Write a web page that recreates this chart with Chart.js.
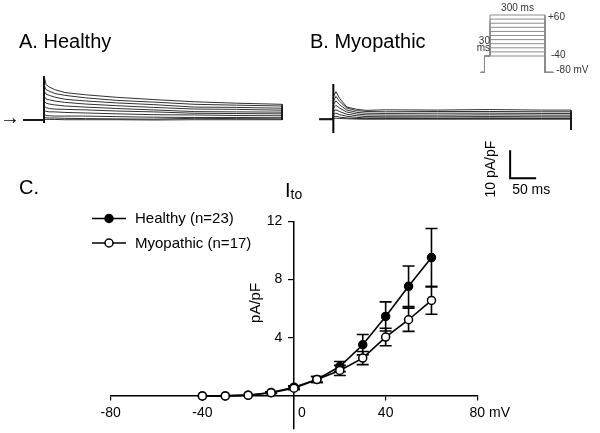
<!DOCTYPE html>
<html>
<head>
<meta charset="utf-8">
<script src="https://cdn.jsdelivr.net/npm/chart.js@4.4.0/dist/chart.umd.min.js"></script>
<style>
  html, body { margin: 0; padding: 0; background: #fff; }
  body { width: 600px; height: 433px; position: relative; overflow: hidden;
         font-family: "Liberation Sans", Arial, sans-serif; color: #000; }
  canvas { position: absolute; }
  .lbl { position: absolute; white-space: nowrap; line-height: 20px; }
</style>
</head>
<body>
<canvas id="ivChart" width="600" height="443" style="left:0;top:0;width:600px;height:443px"></canvas>
<canvas id="traceA" width="265" height="80" style="left:20px;top:65px;width:265px;height:80px"></canvas>
<canvas id="traceB" width="300" height="135" style="left:300px;top:65px;width:300px;height:135px"></canvas>
<canvas id="protocol" width="130" height="80" style="left:470px;top:0;width:130px;height:80px"></canvas>

<div class="lbl" style="left:19px;top:31px;font-size:20px">A. Healthy</div>
<div class="lbl" style="left:310px;top:31px;font-size:20px">B. Myopathic</div>
<div class="lbl" style="left:19px;top:177px;font-size:20px">C.</div>
<div class="lbl" style="left:285px;top:180px;font-size:20px">I<span style="font-size:14px;position:relative;top:2px">to</span></div>
<div class="lbl" style="left:0;top:107px;font-size:20px">&rarr;</div>

<script>

// ---- panel C: I-V relation ----
const voltages = [-40, -30, -20, -10, 0, 10, 20, 30, 40, 50, 60];
const healthyMean = [0, 0, 0.05, 0.23, 0.6, 1.13, 2.02, 3.52, 5.47, 7.54, 9.52];
const healthySem  = [0, 0, 0, 0.05, 0.1, 0.2, 0.35, 0.7, 1.0, 1.4, 2.0];
const myoMean = [0, 0, 0.05, 0.22, 0.53, 1.13, 1.75, 2.6, 4.05, 5.24, 6.57];
const myoSem  = [0, 0, 0, 0.05, 0.1, 0.2, 0.35, 0.45, 0.6, 0.8, 0.95];
const yTicks = [4, 8, 12];

// ---- panels A / B: current traces (pA/pF) ----
const timesA = [0, 4, 10, 20, 40, 80, 140, 210, 290, 370, 458];
const healthyTraces = [
  [15.7, 12.6, 11.8, 10.9, 9.8, 9.0, 8.1, 7.3, 6.5, 6.0, 5.6],
  [12.5, 10.8, 10.3, 9.5, 8.8, 7.9, 7.0, 6.4, 5.6, 5.3, 5.0],
  [10.5, 9.2, 8.8, 8.2, 7.4, 6.8, 6.1, 5.5, 4.6, 4.5, 4.2],
  [8.5, 7.5, 7.2, 6.8, 6.3, 5.7, 5.1, 4.5, 3.9, 3.8, 3.5],
  [6.8, 6.0, 5.7, 5.4, 5.0, 4.6, 4.1, 3.6, 3.0, 2.9, 2.8],
  [5.0, 4.4, 4.1, 3.9, 3.8, 3.6, 3.2, 2.9, 2.4, 2.3, 2.2],
  [3.4, 3.1, 2.9, 2.9, 2.7, 2.5, 2.2, 1.9, 1.8, 1.6, 1.5],
  [2.0, 1.6, 1.5, 1.4, 1.4, 1.4, 1.2, 1.0, 0.9, 0.9, 0.8],
  [0.9, 0.8, 0.7, 0.7, 0.6, 0.5, 0.4, 0.3, 0.6, 0.5, 0.4],
  [0.3, 0.2, 0.2, 0.2, 0.1, 0.1, 0.1, 0, 0.1, 0.1, 0.1]
];
const healthySpike = [-1.1, 15.7];

const timesB = [0, 5, 12, 26, 45, 63, 100, 200, 300, 400, 457];
const myoTraces = [
  [8.0, 9.9, 7.5, 4.4, 3.6, 3.2, 3.4, 3.3, 3.5, 3.3, 3.3],
  [6.5, 8.2, 6.4, 4.0, 3.1, 2.8, 2.7, 2.8, 2.8, 2.7, 2.7],
  [5.2, 6.6, 5.2, 3.3, 2.5, 2.2, 2.1, 2.2, 2.2, 2.1, 2.1],
  [4.0, 5.0, 4.0, 2.6, 1.9, 1.6, 1.5, 1.5, 1.6, 1.5, 1.5],
  [2.8, 3.4, 2.8, 1.8, 1.3, 1.0, 0.9, 0.9, 1.0, 0.9, 0.9],
  [1.8, 2.2, 1.7, 1.1, 0.7, 0.5, 0.5, 0.4, 0.5, 0.4, 0.4],
  [0.9, 1.1, 0.8, 0.5, 0.3, 0.2, 0.2, 0.2, 0.2, 0.2, 0.2],
  [0.3, 0.4, 0.3, 0.2, 0.1, 0.1, 0.1, 0.1, 0.1, 0.1, 0.1]
];
const myoSpike = [-4.9, 12.6];
const myoTail = -3.8;

// scale bar
const barCurrent = 10;   // pA/pF
const barTime = 50;      // ms

// ---- voltage protocol inset ----
const stepVoltages = [-40, -30, -20, -10, 0, 10, 20, 30, 40, 50, 60];
const holdingV = -80;
const prepulseV = -40;
const prepulseMs = 30;
const stepMs = 300;

Chart.defaults.font.family = '"Liberation Sans", Arial, sans-serif';
Chart.defaults.color = '#000';

// error bars, drawn under the markers
const errorBars = {
  id: 'errorBars',
  beforeDatasetsDraw(chart) {
    const { ctx, scales: { x, y } } = chart;
    ctx.save();
    ctx.strokeStyle = '#000';
    ctx.lineWidth = 1.6;
    chart.data.datasets.forEach(ds => {
      ds.sem.forEach((s, i) => {
        if (!s) return;
        const v = ds.data[i].y;
        const px = x.getPixelForValue(voltages[i]);
        const top = y.getPixelForValue(v + s);
        const bot = y.getPixelForValue(v - s);
        ctx.beginPath();
        ctx.moveTo(px, top); ctx.lineTo(px, bot);
        ctx.moveTo(px - 6, top); ctx.lineTo(px + 6, top);
        ctx.moveTo(px - 6, bot); ctx.lineTo(px + 6, bot);
        ctx.stroke();
      });
    });
    ctx.restore();
  }
};

// legend, y title and the "mV" unit
const ivDecor = {
  id: 'ivDecor',
  afterDraw(chart) {
    const { ctx, scales: { x, y } } = chart;
    ctx.save();
    ctx.font = '15px "Liberation Sans", Arial, sans-serif';
    ctx.textBaseline = 'middle';
    ctx.fillStyle = '#000';
    ctx.strokeStyle = '#000';
    chart.data.datasets.forEach((ds, k) => {
      const ly = 218.5 + k * 24.5;
      ctx.lineWidth = 1.6;
      ctx.beginPath(); ctx.moveTo(92, ly); ctx.lineTo(126, ly); ctx.stroke();
      ctx.beginPath(); ctx.arc(109, ly, 4, 0, Math.PI * 2);
      ctx.fillStyle = ds.pointBackgroundColor; ctx.fill();
      ctx.lineWidth = 1.5; ctx.stroke();
      ctx.fillStyle = '#000';
      ctx.textAlign = 'left';
      ctx.fillText(ds.label, 135, ly + 0.5);
    });

    // y axis title
    const ax = x.getPixelForValue(0);
    ctx.save();
    ctx.translate(ax - 38, y.getPixelForValue(6.4));
    ctx.rotate(-Math.PI / 2);
    ctx.textAlign = 'center';
    ctx.fillText('pA/pF', 0, 0);
    ctx.restore();

    // unit after the last x tick
    ctx.font = '14px "Liberation Sans", Arial, sans-serif';
    ctx.textAlign = 'left';
    const w80 = ctx.measureText('80').width;
    ctx.fillText('mV', x.getPixelForValue(80) + w80 / 2 + 4, y.getPixelForValue(0) + 17);
    ctx.restore();
  }
};

new Chart(document.getElementById('ivChart'), {
  type: 'line',
  data: {
    datasets: [
      {
        label: 'Healthy (n=23)',
        data: voltages.map((v, i) => ({ x: v, y: healthyMean[i] })),
        sem: healthySem,
        borderColor: '#000', borderWidth: 1.6,
        pointRadius: 4, pointBorderWidth: 1.5,
        pointBackgroundColor: '#000', pointBorderColor: '#000',
        order: 1
      },
      {
        label: 'Myopathic (n=17)',
        data: voltages.map((v, i) => ({ x: v, y: myoMean[i] })),
        sem: myoSem,
        borderColor: '#000', borderWidth: 1.6,
        pointRadius: 4, pointBorderWidth: 1.5,
        pointBackgroundColor: '#fff', pointBorderColor: '#000',
        order: 0
      }
    ]
  },
  options: {
    responsive: false,
    animation: false,
    events: [],
    clip: false,
    layout: { padding: { left: 110.7, right: 122.7, top: 221.5, bottom: 5 } },
    plugins: { legend: { display: false }, tooltip: { enabled: false } },
    scales: {
      x: {
        type: 'linear', min: -80, max: 80, position: { y: 0 }, z: 1,
        border: { display: true, color: '#000', width: 1.5 },
        grid: { drawOnChartArea: false, drawTicks: true, tickLength: 4, color: '#000', lineWidth: 1.2 },
        ticks: {
          stepSize: 40, padding: 5, maxRotation: 0, autoSkip: false,
          font: { size: 14 }, color: '#000',
          callback: v => v === 0 ? '    0' : String(v)
        }
      },
      y: {
        type: 'linear', min: -2.25, max: 12, position: { x: 0 }, z: 1,
        border: { display: true, color: '#000', width: 1.5 },
        grid: { drawOnChartArea: false, drawTicks: true, tickLength: 5, color: '#000', lineWidth: 1.2 },
        afterBuildTicks: axis => { axis.ticks = yTicks.map(v => ({ value: v })); },
        ticks: { padding: 6, font: { size: 14 }, color: '#000', callback: v => v + '   ' }
      }
    }
  },
  plugins: [errorBars, ivDecor]
});

// ---- trace panels ----
function tracePoints(times, values, start, endValue) {
  const pts = [{ x: start, y: 0 }, { x: 0, y: 0 }];
  times.forEach((t, i) => pts.push({ x: t, y: values[i] }));
  pts.push({ x: times[times.length - 1], y: endValue });
  return pts;
}

function traceDatasets(times, traces, spike, start, endValue) {
  const sets = traces.map(tr => ({
    data: tracePoints(times, tr, start, endValue),
    borderColor: '#1a1a1a', borderWidth: 0.9, pointRadius: 0
  }));
  sets.push({
    data: [{ x: 0, y: spike[0] }, { x: 0, y: spike[1] }],
    borderColor: '#000', borderWidth: 2, pointRadius: 0
  });
  // thicker baseline before the step
  sets.push({
    data: [{ x: start, y: 0 }, { x: 0, y: 0 }],
    borderColor: '#000', borderWidth: 1.8, pointRadius: 0
  });
  return sets;
}

function hiddenAxes(xmin, xmax, ymin, ymax) {
  return {
    x: { type: 'linear', min: xmin, max: xmax, display: false },
    y: { type: 'linear', min: ymin, max: ymax, display: false }
  };
}

const traceOptions = scales => ({
  responsive: false, animation: false, events: [],
  layout: { padding: 0 },
  plugins: { legend: { display: false }, tooltip: { enabled: false } },
  scales: scales
});

new Chart(document.getElementById('traceA'), {
  type: 'line',
  data: { datasets: traceDatasets(timesA, healthyTraces, healthySpike, -40, 0) },
  options: traceOptions(hiddenAxes(-46.2, 463.4, -8.93, 19.64))
});

const scaleBar = {
  id: 'scaleBar',
  afterDraw(chart) {
    const { ctx, scales: { x, y } } = chart;
    const t0 = 340, i0 = -21;
    const px0 = x.getPixelForValue(t0), px1 = x.getPixelForValue(t0 + barTime);
    const py0 = y.getPixelForValue(i0), py1 = y.getPixelForValue(i0 + barCurrent);
    ctx.save();
    ctx.strokeStyle = '#000';
    ctx.lineWidth = 2;
    ctx.beginPath();
    ctx.moveTo(px0, py1); ctx.lineTo(px0, py0); ctx.lineTo(px1, py0);
    ctx.stroke();
    ctx.fillStyle = '#000';
    ctx.font = '14px "Liberation Sans", Arial, sans-serif';
    ctx.textBaseline = 'middle';
    ctx.textAlign = 'left';
    ctx.fillText(barTime + ' ms', px0 + 2, py0 + 12);
    ctx.translate(px0 - 19, (py0 + py1) / 2 + 5);
    ctx.rotate(-Math.PI / 2);
    ctx.textAlign = 'center';
    ctx.fillText(barCurrent + ' pA/pF', 0, 0);
    ctx.restore();
  }
};

new Chart(document.getElementById('traceB'), {
  type: 'line',
  data: { datasets: traceDatasets(timesB, myoTraces, myoSpike, -27, myoTail) },
  options: traceOptions(hiddenAxes(-64.1, 512.8, -28.8, 19.4)),
  plugins: [scaleBar]
});

// ---- voltage protocol ----
const protocolSets = stepVoltages.map(v => ({
  data: [
    { x: -50, y: holdingV }, { x: -prepulseMs, y: holdingV },
    { x: -prepulseMs, y: prepulseV }, { x: 0, y: prepulseV },
    { x: 0, y: v }, { x: stepMs, y: v },
    { x: stepMs, y: holdingV }, { x: stepMs + 45, y: holdingV }
  ],
  borderColor: '#8c8c8c', borderWidth: 1, pointRadius: 0
}));

const protocolLabels = {
  id: 'protocolLabels',
  afterDraw(chart) {
    const { ctx, scales: { x, y } } = chart;
    const top = stepVoltages[stepVoltages.length - 1];
    ctx.save();
    ctx.fillStyle = '#333';
    ctx.font = '10px "Liberation Sans", Arial, sans-serif';
    ctx.textBaseline = 'middle';
    ctx.textAlign = 'center';
    ctx.fillText(stepMs + ' ms', x.getPixelForValue(stepMs / 2), y.getPixelForValue(top) - 7);
    ctx.textAlign = 'left';
    ctx.fillText('+' + top, x.getPixelForValue(stepMs) + 3, y.getPixelForValue(top) + 2);
    ctx.fillText(String(prepulseV), x.getPixelForValue(stepMs) + 6, y.getPixelForValue(prepulseV) - 1);
    ctx.fillText(holdingV + ' mV', x.getPixelForValue(stepMs + 45) + 3, y.getPixelForValue(holdingV) - 2);
    ctx.textAlign = 'right';
    ctx.fillText(String(prepulseMs), x.getPixelForValue(0), y.getPixelForValue(prepulseV) - 15);
    ctx.fillText('ms', x.getPixelForValue(0), y.getPixelForValue(prepulseV) - 7.5);
    ctx.restore();
  }
};

new Chart(document.getElementById('protocol'), {
  type: 'line',
  data: { datasets: protocolSets },
  options: traceOptions(hiddenAxes(-109, 600, -98.5, 96.6)),
  plugins: [protocolLabels]
});

</script>
</body>
</html>
